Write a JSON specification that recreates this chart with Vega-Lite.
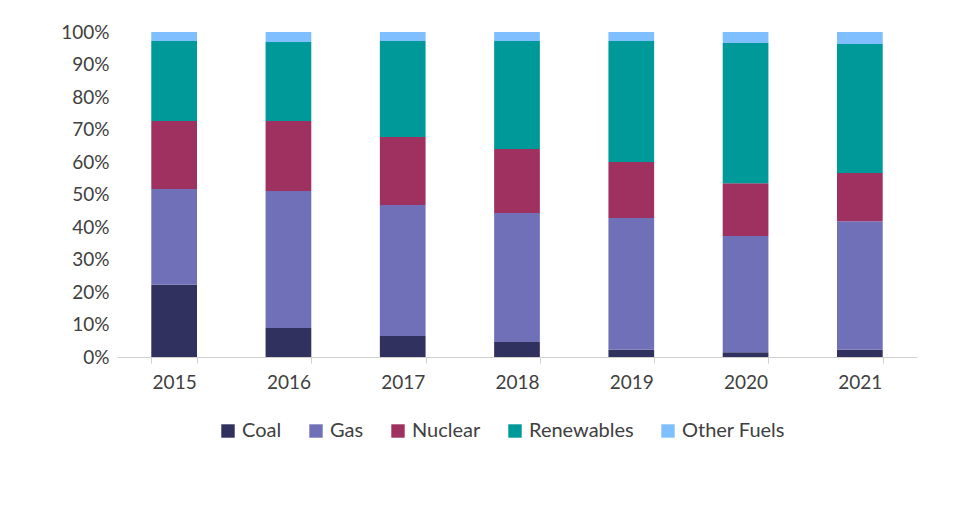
{
  "$schema": "https://vega.github.io/schema/vega-lite/v6.json",
  "autosize": "none",
  "width": 800,
  "height": 325,
  "padding": {"left": 117, "top": 32, "right": 41, "bottom": 159},
  "background": "white",
  "config": {"font": "Lato", "view": {"stroke": null}},
  "title": {
    "text": "Shares of electricity generation by energy (Source: DUKES, 2022 – Chapter Five, electicity)",
    "orient": "bottom",
    "anchor": "start",
    "dx": -92,
    "offset": 90,
    "fontSize": 14,
    "fontWeight": "normal",
    "color": "#333333",
    "font": "Lato"
  },
  "data": {
    "values": [
      {"year": "2015", "fuel": "Coal", "k": 1, "share": 22.2},
      {"year": "2015", "fuel": "Gas", "k": 2, "share": 29.5},
      {"year": "2015", "fuel": "Nuclear", "k": 3, "share": 20.9},
      {"year": "2015", "fuel": "Renewables", "k": 4, "share": 24.6},
      {"year": "2015", "fuel": "Other Fuels", "k": 5, "share": 2.8},
      {"year": "2016", "fuel": "Coal", "k": 1, "share": 8.9},
      {"year": "2016", "fuel": "Gas", "k": 2, "share": 42.2},
      {"year": "2016", "fuel": "Nuclear", "k": 3, "share": 21.5},
      {"year": "2016", "fuel": "Renewables", "k": 4, "share": 24.3},
      {"year": "2016", "fuel": "Other Fuels", "k": 5, "share": 3.1},
      {"year": "2017", "fuel": "Coal", "k": 1, "share": 6.5},
      {"year": "2017", "fuel": "Gas", "k": 2, "share": 40.3},
      {"year": "2017", "fuel": "Nuclear", "k": 3, "share": 20.9},
      {"year": "2017", "fuel": "Renewables", "k": 4, "share": 29.5},
      {"year": "2017", "fuel": "Other Fuels", "k": 5, "share": 2.8},
      {"year": "2018", "fuel": "Coal", "k": 1, "share": 4.6},
      {"year": "2018", "fuel": "Gas", "k": 2, "share": 39.7},
      {"year": "2018", "fuel": "Nuclear", "k": 3, "share": 19.7},
      {"year": "2018", "fuel": "Renewables", "k": 4, "share": 33.2},
      {"year": "2018", "fuel": "Other Fuels", "k": 5, "share": 2.8},
      {"year": "2019", "fuel": "Coal", "k": 1, "share": 2.2},
      {"year": "2019", "fuel": "Gas", "k": 2, "share": 40.6},
      {"year": "2019", "fuel": "Nuclear", "k": 3, "share": 17.2},
      {"year": "2019", "fuel": "Renewables", "k": 4, "share": 37.2},
      {"year": "2019", "fuel": "Other Fuels", "k": 5, "share": 2.8},
      {"year": "2020", "fuel": "Coal", "k": 1, "share": 1.5},
      {"year": "2020", "fuel": "Gas", "k": 2, "share": 35.7},
      {"year": "2020", "fuel": "Nuclear", "k": 3, "share": 16.3},
      {"year": "2020", "fuel": "Renewables", "k": 4, "share": 43.1},
      {"year": "2020", "fuel": "Other Fuels", "k": 5, "share": 3.4},
      {"year": "2021", "fuel": "Coal", "k": 1, "share": 2.2},
      {"year": "2021", "fuel": "Gas", "k": 2, "share": 39.6},
      {"year": "2021", "fuel": "Nuclear", "k": 3, "share": 14.8},
      {"year": "2021", "fuel": "Renewables", "k": 4, "share": 39.7},
      {"year": "2021", "fuel": "Other Fuels", "k": 5, "share": 3.7}
    ]
  },
  "mark": {"type": "bar"},
  "encoding": {
    "x": {
      "field": "year",
      "type": "nominal",
      "title": null,
      "scale": {"paddingInner": 0.6, "paddingOuter": 0.3},
      "axis": {
        "labelAngle": 0,
        "labelFontSize": 19,
        "labelColor": "#404040",
        "labelPadding": 10,
        "domainColor": "#d0d0d0",
        "tickColor": "#d0d0d0",
        "tickBand": "extent",
        "tickSize": 6
      }
    },
    "y": {
      "field": "share",
      "type": "quantitative",
      "stack": "zero",
      "title": null,
      "scale": {"domain": [0, 100]},
      "axis": {
        "values": [0, 10, 20, 30, 40, 50, 60, 70, 80, 90, 100],
        "labelExpr": "datum.value + '%'",
        "labelFontSize": 19,
        "labelColor": "#404040",
        "labelPadding": 8,
        "domain": false,
        "ticks": false,
        "grid": false
      }
    },
    "color": {
      "field": "fuel",
      "type": "nominal",
      "title": null,
      "sort": ["Coal", "Gas", "Nuclear", "Renewables", "Other Fuels"],
      "scale": {
        "domain": ["Coal", "Gas", "Nuclear", "Renewables", "Other Fuels"],
        "range": ["#31315f", "#7070b8", "#9e3160", "#009999", "#7fbfff"]
      },
      "legend": {
        "orient": "none",
        "direction": "horizontal",
        "legendX": 101,
        "legendY": 389,
        "symbolType": "square",
        "symbolSize": 180,
        "symbolStrokeWidth": 0,
        "labelFontSize": 20,
        "labelColor": "#404040",
        "columnPadding": 24
      }
    },
    "order": {"field": "k", "type": "quantitative"}
  }
}
